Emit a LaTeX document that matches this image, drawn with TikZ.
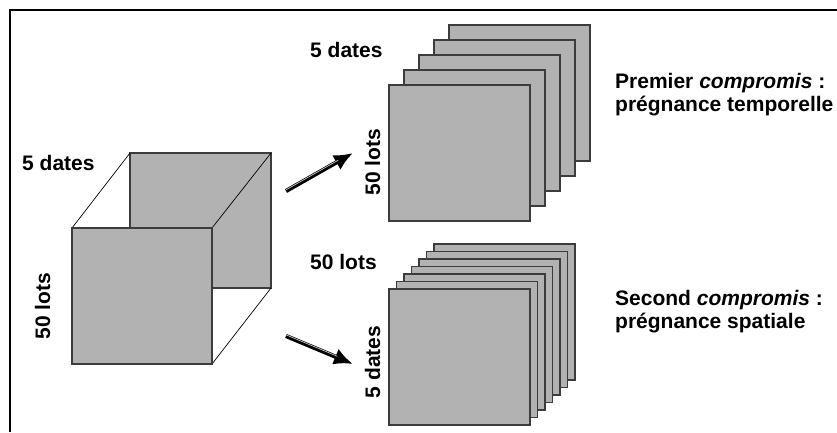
\documentclass[tikz,border=0pt]{standalone}
\usepackage{fontspec}
\setmainfont{Liberation Sans}
\usetikzlibrary{arrows.meta}
\definecolor{sheetgray}{HTML}{B2B2B2}
\definecolor{edgegray}{HTML}{3C3C3C}
\begin{document}
\begin{tikzpicture}[x=1pt,y=-1pt,
  sheet/.style={fill=sheetgray,draw=edgegray,line width=1.1pt},
  edge/.style={draw=black,line width=0.7pt},
  lbl/.style={font=\fontsize{21}{24}\selectfont\bfseries,inner sep=0pt},
  bigarrow/.style={line width=4.2pt,-{Latex[length=19pt,width=17pt]}},
  frameline/.style={line width=1.3pt}]
\useasboundingbox (0,0) rectangle (837,432);
% frame (top and left only)
\coordinate (fl) at (10,432);
\coordinate (fc) at (10,10);
\coordinate (fr) at (837,10);
\draw[frameline] (fl) -- (fc) -- (fr);
% cube
\coordinate (bA) at (130,153); \coordinate (bB) at (271,153);
\coordinate (bC) at (271,288); \coordinate (bD) at (130,288);
\coordinate (fA) at (72,228); \coordinate (fB) at (212,228);
\coordinate (fC) at (212,364); \coordinate (fD) at (72,364);
\draw[sheet] (bA) -- (bB) -- (bC) -- (bD) -- cycle;
\draw[edge] (fA) -- (bA);
\draw[edge] (fB) -- (bB);
\draw[edge] (fC) -- (bC);
\draw[sheet] (fA) -- (fB) -- (fC) -- (fD) -- cycle;
\node[lbl,anchor=base west] (cubedates) at (22,170) {5 dates};
\node[lbl,anchor=base,rotate=90] (cubelots) at (50,306) {50 lots};
% top stack: 5 sheets
\foreach \i in {4,3,2,1,0}{
  \draw[sheet] ({389+15*\i},{85-15*\i}) rectangle ++(141,136);
}
\node[lbl,anchor=base west] (topdates) at (310,57) {5 dates};
\node[lbl,anchor=base,rotate=90] (toplots) at (380,162) {50 lots};
% bottom stack: 7 sheets
\foreach \i in {6,5,4,3,2,1,0}{
  \draw[sheet] ({389+7.5*\i},{289-7.5*\i}) rectangle ++(141,136);
}
\node[lbl,anchor=base west] (botlots) at (310,269) {50 lots};
\node[lbl,anchor=base,rotate=90] (botdates) at (380,362) {5 dates};
% arrows
\coordinate (a1s) at (286,191); \coordinate (a1e) at (353,153);
\coordinate (a2s) at (286,336); \coordinate (a2e) at (353,364);
\draw[bigarrow] (a1s) -- (a1e);
\draw[bigarrow] (a2s) -- (a2e);
\draw[white!55!gray,line width=0.7pt,shorten >=17pt] ([yshift=1.2pt]a1s) -- ([yshift=1.2pt]a1e);
\draw[white!55!gray,line width=0.7pt,shorten >=17pt] ([yshift=1.2pt]a2s) -- ([yshift=1.2pt]a2e);
% right texts
\node[lbl,anchor=base west] (t1a) at (615,88) {Premier \textit{compromis} :};
\node[lbl,anchor=base west] (t1b) at (615,111) {prégnance temporelle};
\node[lbl,anchor=base west] (t2a) at (615,305) {Second \textit{compromis} :};
\node[lbl,anchor=base west] (t2b) at (615,328) {prégnance spatiale};
\end{tikzpicture}
\end{document}
